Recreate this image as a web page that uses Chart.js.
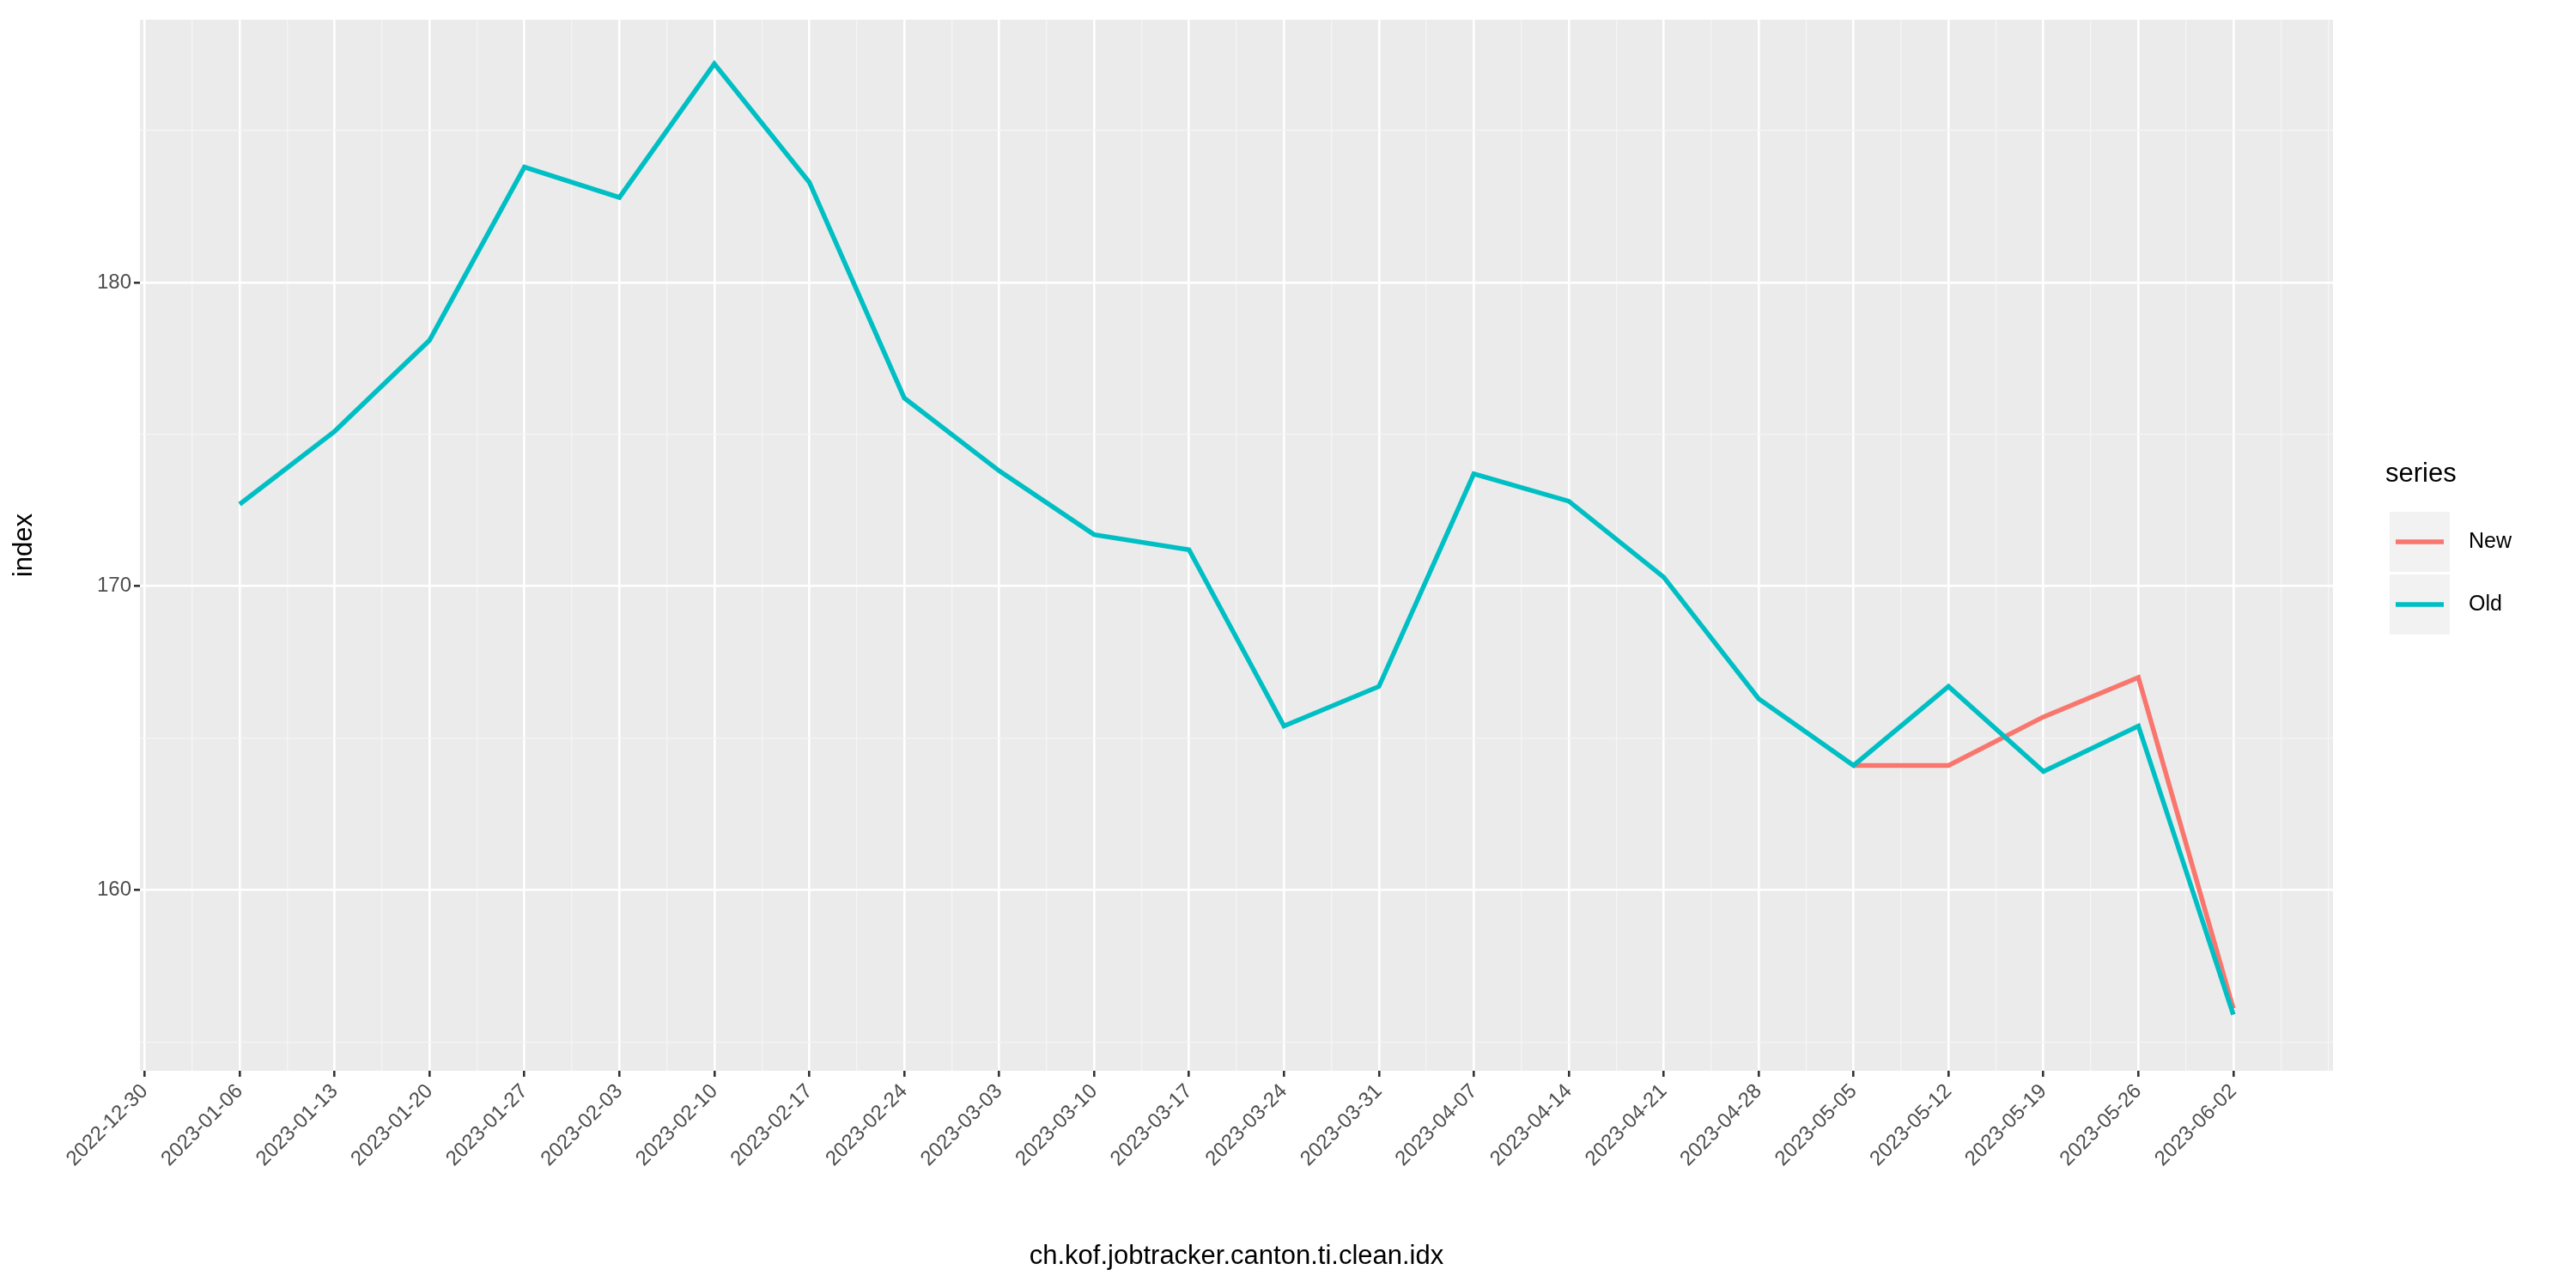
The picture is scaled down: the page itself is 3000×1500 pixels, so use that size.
<!DOCTYPE html>
<html lang="en">
<head>
<meta charset="UTF-8">
<title>jobtracker ti</title>
<script src="https://cdn.jsdelivr.net/npm/chart.js"></script>
<style>
  body { margin: 0; background: #fff; }
  #wrap { width: 3000px; height: 1500px; }
</style>
</head>
<body>
<div id="wrap"><canvas id="c" width="3000" height="1500"></canvas></div>
<script>
// week index 0 = 2022-12-30
const weekLabels = ['2022-12-30','2023-01-06','2023-01-13','2023-01-20','2023-01-27','2023-02-03','2023-02-10',
  '2023-02-17','2023-02-24','2023-03-03','2023-03-10','2023-03-17','2023-03-24','2023-03-31','2023-04-07',
  '2023-04-14','2023-04-21','2023-04-28','2023-05-05','2023-05-12','2023-05-19','2023-05-26','2023-06-02'];
const oldWeeks = [1,2,3,4,5,6,7,8,9,10,11,12,13,14,15,16,17,18,19,20,21,22];
const oldValues = [172.7,175.1,178.1,183.8,182.8,187.2,183.3,176.2,173.8,171.7,171.2,165.4,166.7,173.7,172.8,170.3,166.3,164.1,166.7,163.9,165.4,155.9];
const newWeeks = [18,19,20,21,22];
const newValues = [164.1,164.1,165.7,167.0,156.1];

const C_NEW = '#F8766D', C_OLD = '#00BFC4';
const FONT = '"Liberation Sans", Arial, sans-serif';
const pts = (xs, ys) => xs.map((x, i) => ({x: x, y: ys[i]}));

const panelBg = {
  id: 'panelBg',
  beforeDraw(chart) {
    const a = chart.chartArea, ctx = chart.ctx;
    ctx.save(); ctx.fillStyle = '#EBEBEB';
    ctx.fillRect(a.left, a.top, a.right - a.left, a.bottom - a.top);
    ctx.restore();
  },
  afterDraw(chart) {
    const ctx = chart.ctx;
    ctx.save();
    ctx.fillStyle = '#000'; ctx.font = '31px ' + FONT;
    ctx.textBaseline = 'middle'; ctx.textAlign = 'left';
    ctx.fillText('series', 2778, 552);
    const keys = [['New', C_NEW, 631], ['Old', C_OLD, 704]];
    ctx.font = '25px ' + FONT;
    keys.forEach(k => {
      ctx.fillStyle = '#F2F2F2';
      ctx.fillRect(2783, k[2] - 35, 70, 70);
      ctx.strokeStyle = k[1]; ctx.lineWidth = 5.5;
      ctx.beginPath(); ctx.moveTo(2790, k[2]); ctx.lineTo(2846, k[2]); ctx.stroke();
      ctx.fillStyle = '#000';
      ctx.fillText(k[0], 2875, k[2]);
    });
    ctx.restore();
  }
};

new Chart(document.getElementById('c'), {
  type: 'line',
  data: {
    datasets: [
      { label: 'Old', data: pts(oldWeeks, oldValues), borderColor: C_OLD, borderWidth: 5.5, pointRadius: 0, order: 0, tension: 0 },
      { label: 'New', data: pts(newWeeks, newValues), borderColor: C_NEW, borderWidth: 5.5, pointRadius: 0, order: 1, tension: 0 }
    ]
  },
  options: {
    responsive: false, animation: false, devicePixelRatio: 1,
    layout: { padding: { left: 10, right: 283, top: 23, bottom: 18 } },
    plugins: { legend: { display: false }, tooltip: { enabled: false } },
    scales: {
      x: {
        type: 'linear', min: -0.05, max: 23.05,
        afterBuildTicks(s) { const t = []; for (let v = 0; v <= 23; v += 0.5) t.push({value: v}); s.ticks = t; },
        afterFit(s) { s.height = 235; },
        grid: {
          color: c => Number.isInteger(c.tick.value) && c.tick.value <= 22 ? '#FFFFFF' : '#F5F5F5',
          lineWidth: c => Number.isInteger(c.tick.value) && c.tick.value <= 22 ? 2.6 : 1.3,
          tickColor: c => Number.isInteger(c.tick.value) && c.tick.value <= 22 ? '#333' : 'rgba(0,0,0,0)',
          tickLength: 7
        },
        border: { display: false },
        ticks: {
          autoSkip: false, minRotation: 45, maxRotation: 45, color: '#4D4D4D',
          font: { size: 24, family: FONT },
          callback: v => Number.isInteger(v) && v <= 22 ? weekLabels[v] : ''
        },
        title: { display: true, text: 'ch.kof.jobtracker.canton.ti.clean.idx', color: '#000',
          font: { size: 31, family: FONT }, padding: { top: 0, bottom: 0 } }
      },
      y: {
        min: 154.05, max: 188.65,
        afterBuildTicks(s) { const t = []; for (let v = 155; v <= 185; v += 5) t.push({value: v}); s.ticks = t; },
        afterFit(s) { s.width = 153; },
        grid: {
          color: c => c.tick.value % 10 === 0 ? '#FFFFFF' : '#F5F5F5',
          lineWidth: c => c.tick.value % 10 === 0 ? 2.6 : 1.3,
          tickColor: c => c.tick.value % 10 === 0 ? '#333' : 'rgba(0,0,0,0)',
          tickLength: 7
        },
        border: { display: false },
        ticks: {
          color: '#4D4D4D', font: { size: 24, family: FONT },
          callback: v => v % 10 === 0 ? String(v) : ''
        },
        title: { display: true, text: 'index', color: '#000',
          font: { size: 31, family: FONT }, padding: { top: 0, bottom: 8 } }
      }
    }
  },
  plugins: [panelBg]
});
</script>
</body>
</html>
